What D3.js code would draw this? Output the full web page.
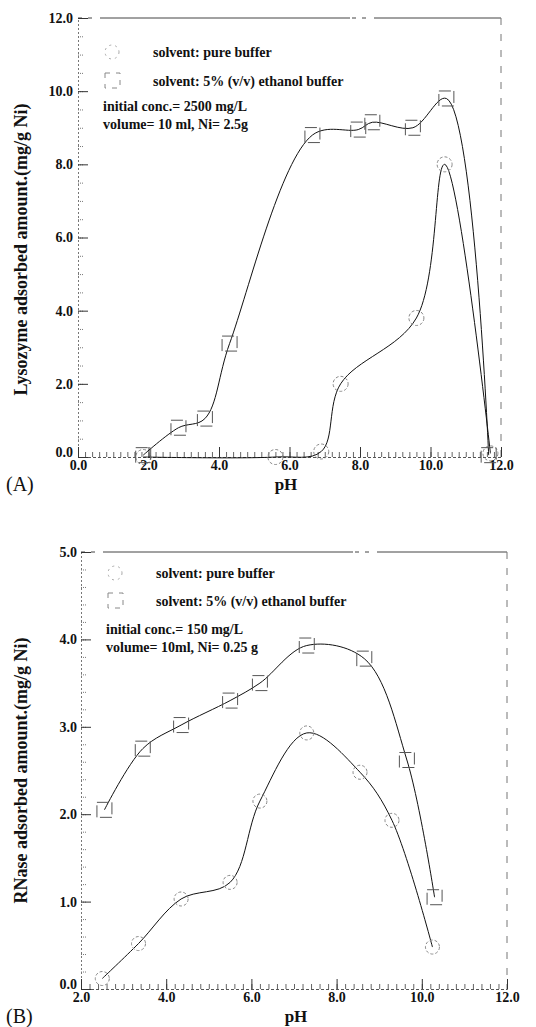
<!DOCTYPE html>
<html>
<head>
<meta charset="utf-8">
<script src="https://cdn.jsdelivr.net/npm/d3@7"></script>
<style>
  body { margin: 0; background: #fff; }
  svg text { font-family: "Liberation Serif", "Times New Roman", serif; fill: #111; }
</style>
</head>
<body>
<svg id="chart" width="536" height="1027"></svg>
<script>
// (A) lysozyme, pure buffer (circles)
var phA_pure = [1.85, 5.6, 6.9, 7.45, 9.6, 10.4, 11.7];
var lysA_pure = [0, 0, 0.15, 2.0, 3.8, 8.0, 0.1];
// (A) lysozyme, 5% ethanol buffer (squares)
var phA_eth = [1.85, 2.85, 3.6, 4.3, 6.65, 7.95, 8.35, 9.5, 10.45, 11.65];
var lysA_eth = [0.05, 0.8, 1.05, 3.1, 8.8, 8.95, 9.15, 9.0, 9.8, 0.05];

// (B) RNase, pure buffer (circles)
var phB_pure = [2.5, 3.35, 4.35, 5.5, 6.2, 7.3, 8.55, 9.3, 10.25];
var rnB_pure = [0.12, 0.52, 1.03, 1.22, 2.15, 2.93, 2.48, 1.93, 0.48];
// (B) RNase, 5% ethanol buffer (squares)
var phB_eth = [2.55, 3.45, 4.35, 5.5, 6.2, 7.3, 8.65, 9.65, 10.3];
var rnB_eth = [2.05, 2.75, 3.02, 3.3, 3.5, 3.93, 3.78, 2.62, 1.05];

var ticksA_x = [0, 2, 4, 6, 8, 10, 12];
var ticksA_y = [0, 2, 4, 6, 8, 10, 12];
var ticksB_x = [2, 4, 6, 8, 10, 12];
var ticksB_y = [0, 1, 2, 3, 4, 5];

var legendA = ["solvent: pure buffer", "solvent: 5% (v/v) ethanol buffer"];
var notesA = ["initial conc.= 2500 mg/L", "volume= 10 ml,  Ni= 2.5g"];
var legendB = ["solvent: pure buffer", "solvent: 5% (v/v) ethanol buffer"];
var notesB = ["initial conc.= 150 mg/L", "volume= 10ml,  Ni= 0.25 g"];

var svg = d3.select("#chart");

function zip(xs, ys) {
  return xs.map(function (v, i) { return [v, ys[i]]; });
}

function drawPanel(p) {
  var x = d3.scaleLinear().domain(p.xDomain).range([p.left, p.right]);
  var y = d3.scaleLinear().domain(p.yDomain).range([p.bottom, p.top]);
  var g = svg.append("g");

  // frame (top + right), scanned look
  g.append("line")
    .attr("x1", p.left).attr("x2", p.right)
    .attr("y1", p.top).attr("y2", p.top)
    .attr("stroke", "#444").attr("stroke-width", 1)
    .attr("stroke-dasharray", "4,6,4,8,250,2");
  g.append("line")
    .attr("x1", p.right).attr("x2", p.right)
    .attr("y1", p.top).attr("y2", p.bottom)
    .attr("stroke", "#777").attr("stroke-width", 1)
    .attr("stroke-dasharray", "7,9");

  // minor ticks
  g.append("g")
    .attr("transform", "translate(0," + p.bottom + ")")
    .call(d3.axisBottom(x).tickValues(d3.range(p.xDomain[0], p.xDomain[1] + 0.001, 0.2)).tickSize(-5).tickFormat(""))
    .call(function (a) {
      a.select(".domain").attr("stroke", "#555").attr("stroke-dasharray", "3,2");
      a.selectAll(".tick line").attr("stroke", "#666");
    });
  g.append("g")
    .attr("transform", "translate(" + p.left + ",0)")
    .call(d3.axisLeft(y).tickValues(d3.range(p.yDomain[0], p.yDomain[1] + 0.001, p.yMinor)).tickSize(-5).tickFormat(""))
    .call(function (a) {
      a.select(".domain").attr("stroke", "#777").attr("stroke-dasharray", "2,2");
      a.selectAll(".tick line").attr("stroke", "#777").attr("stroke-dasharray", "1,1");
    });

  // major ticks + labels
  g.append("g")
    .attr("transform", "translate(0," + p.bottom + ")")
    .call(d3.axisBottom(x).tickValues(p.xTicks).tickSize(-10).tickPadding(3).tickFormat(d3.format(".1f")))
    .call(function (a) {
      a.select(".domain").remove();
      a.selectAll(".tick line").attr("stroke", "#333");
      a.selectAll(".tick text").attr("font-size", 14).attr("font-weight", "bold").attr("fill", "#111");
    });
  g.append("g")
    .attr("transform", "translate(" + p.left + ",0)")
    .call(d3.axisLeft(y).tickValues(p.yTicks).tickSize(-10).tickPadding(p.yPad).tickFormat(d3.format(".1f")))
    .call(function (a) {
      a.select(".domain").remove();
      a.selectAll(".tick line").attr("stroke", "#333");
      a.selectAll(".tick text").attr("font-size", 14).attr("font-weight", "bold").attr("fill", "#111")
        .attr("dy", function (d) { return d === p.yDomain[0] ? "-0.05em" : "0.32em"; });
    });

  // axis titles
  g.append("text")
    .attr("transform", "translate(" + p.yTitleX + "," + ((p.top + p.bottom) / 2 + p.yTitleShift) + ") rotate(-90)")
    .attr("text-anchor", "middle")
    .attr("font-size", 18).attr("font-weight", "bold")
    .text(p.yTitle);
  g.append("text")
    .attr("x", p.xTitleX).attr("y", p.bottom + 33)
    .attr("text-anchor", "middle")
    .attr("font-size", 17).attr("font-weight", "bold")
    .text("pH");
  g.append("text")
    .attr("x", 6).attr("y", p.bottom + 34)
    .attr("font-size", 20)
    .text(p.tag);

  // curves
  var line = d3.line()
    .x(function (d) { return x(d[0]); })
    .y(function (d) { return y(d[1]); })
    .curve(d3.curveCatmullRom.alpha(0.5));

  var pure = zip(p.pureX, p.pureY);
  var eth = zip(p.ethX, p.ethY);

  g.append("path").datum(pure)
    .attr("fill", "none").attr("stroke", "#111").attr("stroke-width", 1)
    .attr("d", line);
  g.append("path").datum(eth)
    .attr("fill", "none").attr("stroke", "#111").attr("stroke-width", 1)
    .attr("d", line);

  // markers
  g.selectAll(".pt-pure").data(pure).enter().append("circle")
    .attr("class", "pt-pure")
    .attr("cx", function (d) { return x(d[0]); })
    .attr("cy", function (d) { return y(d[1]); })
    .attr("r", p.r)
    .attr("fill", "none").attr("stroke", "#888").attr("stroke-width", 1)
    .attr("stroke-dasharray", "3,2");
  g.selectAll(".pt-eth").data(eth).enter().append("rect")
    .attr("class", "pt-eth")
    .attr("x", function (d) { return x(d[0]) - p.s / 2; })
    .attr("y", function (d) { return y(d[1]) - p.s / 2; })
    .attr("width", p.s).attr("height", p.s)
    .attr("fill", "none").attr("stroke", "#555").attr("stroke-width", 1)
    .attr("stroke-dasharray", "12,3");

  // legend
  var lg = g.append("g");
  lg.append("circle")
    .attr("cx", p.legX + 7).attr("cy", p.legY)
    .attr("r", 7)
    .attr("fill", "none").attr("stroke", "#aaa").attr("stroke-dasharray", "2,4");
  lg.append("rect")
    .attr("x", p.legX).attr("y", p.legY + p.legGap - 8)
    .attr("width", 15).attr("height", 15)
    .attr("fill", "none").attr("stroke", "#888").attr("stroke-dasharray", "5,6");
  lg.selectAll(".leg").data(p.legend).enter().append("text")
    .attr("x", p.legX + 48)
    .attr("y", function (d, i) { return p.legY + i * p.legGap + 5; })
    .attr("font-size", 14).attr("font-weight", "bold")
    .text(function (d) { return d; });
  lg.selectAll(".note").data(p.notes).enter().append("text")
    .attr("x", p.legX - 2)
    .attr("y", function (d, i) { return p.noteY + i * 18; })
    .attr("font-size", 14).attr("font-weight", "bold")
    .text(function (d) { return d; });
}

drawPanel({
  tag: "(A)",
  xDomain: [0, 12], yDomain: [0, 12],
  left: 78, right: 501, top: 18, bottom: 457,
  xTicks: ticksA_x, yTicks: ticksA_y, yMinor: 0.5, yPad: 5,
  yTitle: "Lysozyme adsorbed amount.(mg/g Ni)", yTitleX: 27, yTitleShift: 12,
  xTitleX: 286,
  pureX: phA_pure, pureY: lysA_pure, ethX: phA_eth, ethY: lysA_eth,
  r: 7.5, s: 15,
  legend: legendA, notes: notesA,
  legX: 105, legY: 52, legGap: 29, noteY: 111
});

drawPanel({
  tag: "(B)",
  xDomain: [2, 12], yDomain: [0, 5],
  left: 81, right: 507, top: 552, bottom: 989,
  xTicks: ticksB_x, yTicks: ticksB_y, yMinor: 0.2, yPad: 4,
  yTitle: "RNase adsorbed amount.(mg/g Ni)", yTitleX: 27, yTitleShift: 0,
  xTitleX: 296,
  pureX: phB_pure, pureY: rnB_pure, ethX: phB_eth, ethY: rnB_eth,
  r: 7, s: 15,
  legend: legendB, notes: notesB,
  legX: 108, legY: 573, legGap: 28, noteY: 634
});
</script>
</body>
</html>
